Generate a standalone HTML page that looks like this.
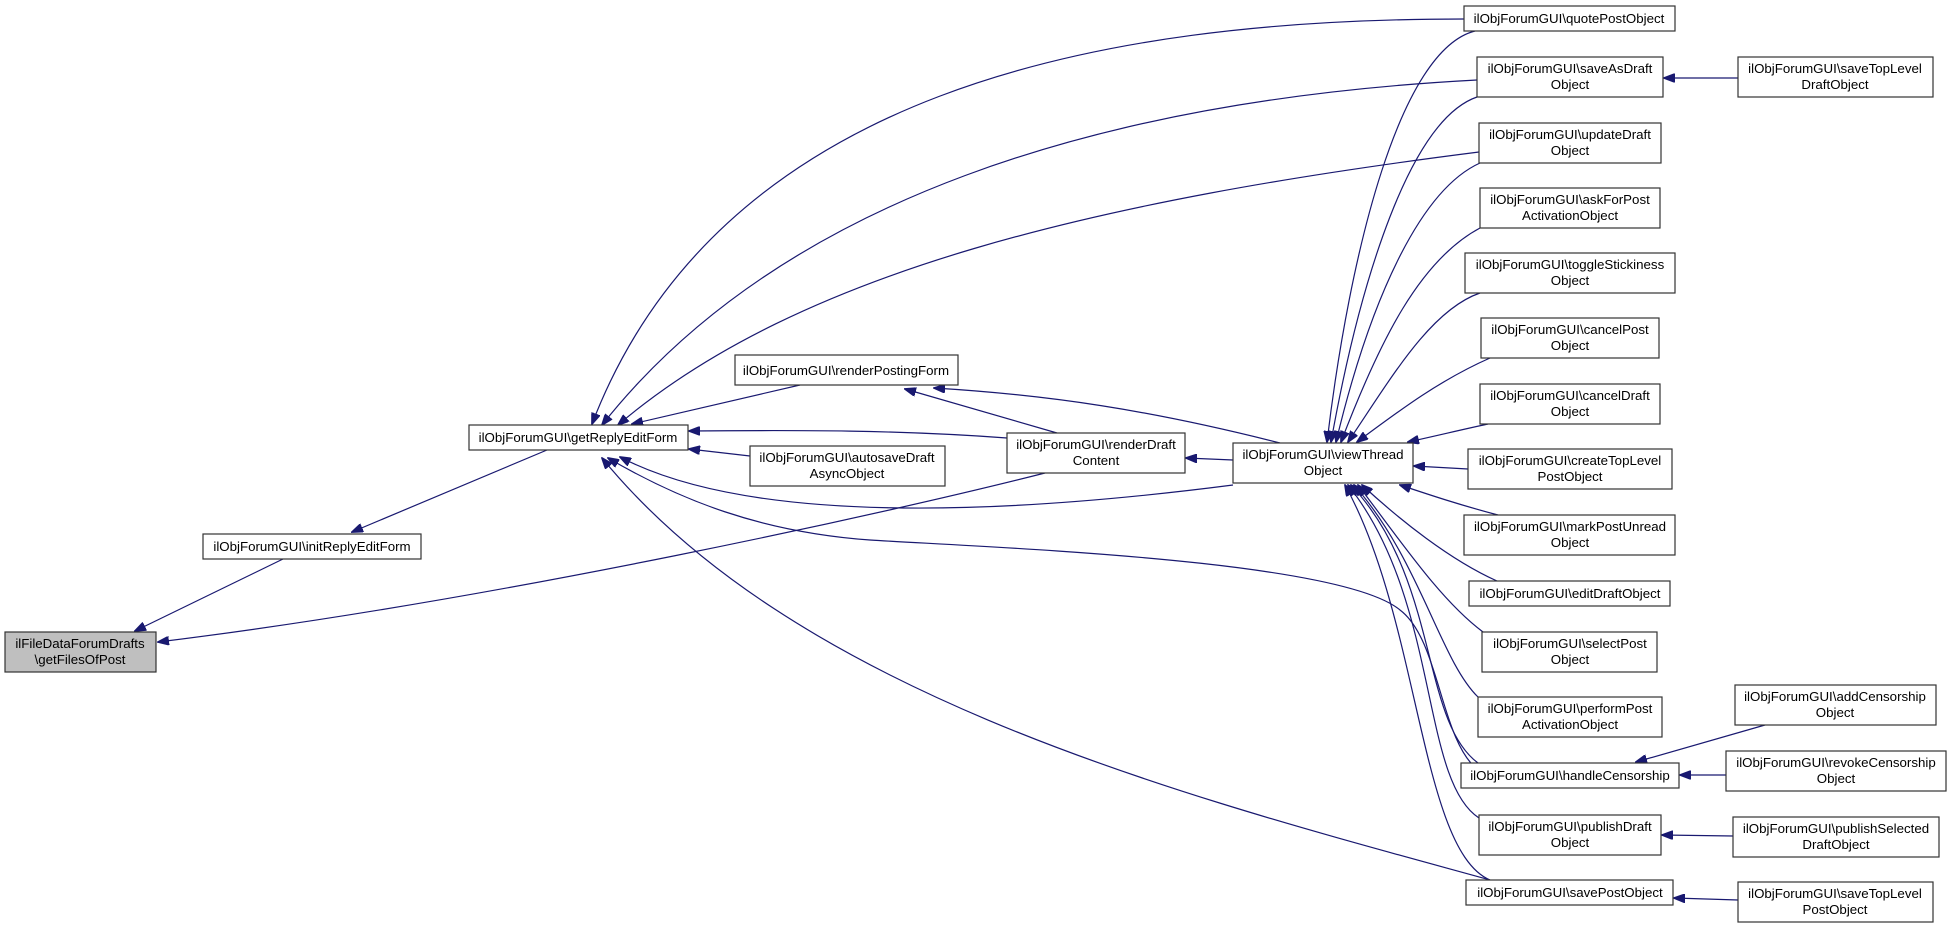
<!DOCTYPE html>
<html><head><meta charset="utf-8"><style>
html,body{margin:0;padding:0;background:#fff;}
svg{display:block;}
text{font-family:"Liberation Sans",Arial,sans-serif;font-size:13.3px;fill:#000;text-anchor:middle;}
.n{fill:#fff;stroke:#333;stroke-width:1.2;}
.e{fill:none;stroke:#191970;stroke-width:1.2;}
</style></head><body>
<svg width="1951" height="929" viewBox="0 0 1951 929" xmlns="http://www.w3.org/2000/svg">
<defs>
<marker id="ah" markerWidth="12" markerHeight="9" refX="11" refY="4.5" orient="auto" markerUnits="userSpaceOnUse">
<path d="M0,0 L12,4.5 L0,9 Z" fill="#191970" stroke="#191970"/>
</marker>
</defs>
<g class="edges">
<path class="e" marker-end="url(#ah)" d="M283,559 L135,631"/>
<path class="e" marker-end="url(#ah)" d="M1045,473 C900,510 500,600 158,642"/>
<path class="e" marker-end="url(#ah)" d="M547,450 L352,532"/>
<path class="e" marker-end="url(#ah)" d="M1464,19 C1100,19 720,90 592,424"/>
<path class="e" marker-end="url(#ah)" d="M1477,80 C1100,100 780,200 602,425"/>
<path class="e" marker-end="url(#ah)" d="M1479,152 C1100,200 800,270 618,425"/>
<path class="e" marker-end="url(#ah)" d="M800,385 L632,424"/>
<path class="e" marker-end="url(#ah)" d="M1007,438 C900,430 800,430 689,431"/>
<path class="e" marker-end="url(#ah)" d="M750,456 L689,449"/>
<path class="e" marker-end="url(#ah)" d="M1233,485 C1000,515 750,525 620,457"/>
<path class="e" marker-end="url(#ah)" d="M1478,770 C1440,740 1440,640 1400,610 C1340,560 1000,548 870,540 C760,532 680,500 608,458"/>
<path class="e" marker-end="url(#ah)" d="M1490,880 C1200,800 800,700 602,458"/>
<path class="e" marker-end="url(#ah)" d="M1057,433 L905,389"/>
<path class="e" marker-end="url(#ah)" d="M1280,443 C1150,410 1050,395 934,388"/>
<path class="e" marker-end="url(#ah)" d="M1233,460 L1186,458"/>
<path class="e" marker-end="url(#ah)" d="M1475,31 C1400,50 1350,250 1327,442"/>
<path class="e" marker-end="url(#ah)" d="M1477,97 C1410,120 1360,280 1331,442"/>
<path class="e" marker-end="url(#ah)" d="M1480,163 C1420,190 1370,300 1336,442"/>
<path class="e" marker-end="url(#ah)" d="M1480,228 C1420,260 1380,340 1341,442"/>
<path class="e" marker-end="url(#ah)" d="M1480,293 C1430,310 1390,380 1348,442"/>
<path class="e" marker-end="url(#ah)" d="M1490,358 C1440,380 1400,410 1357,442"/>
<path class="e" marker-end="url(#ah)" d="M1488,424 C1460,430 1440,435 1408,442"/>
<path class="e" marker-end="url(#ah)" d="M1468,469 L1414,466"/>
<path class="e" marker-end="url(#ah)" d="M1498,515 C1460,505 1430,495 1400,485"/>
<path class="e" marker-end="url(#ah)" d="M1497,581 C1450,560 1400,520 1362,485"/>
<path class="e" marker-end="url(#ah)" d="M1483,632 C1440,600 1400,540 1358,485"/>
<path class="e" marker-end="url(#ah)" d="M1478,697 C1440,660 1420,560 1354,485"/>
<path class="e" marker-end="url(#ah)" d="M1478,763 C1420,720 1440,580 1351,485"/>
<path class="e" marker-end="url(#ah)" d="M1479,818 C1420,780 1440,600 1348,485"/>
<path class="e" marker-end="url(#ah)" d="M1490,880 C1420,850 1420,620 1345,485"/>
<path class="e" marker-end="url(#ah)" d="M1738,78 L1664,78"/>
<path class="e" marker-end="url(#ah)" d="M1765,725 L1636,762"/>
<path class="e" marker-end="url(#ah)" d="M1726,775 L1680,775"/>
<path class="e" marker-end="url(#ah)" d="M1733,836 L1662,835"/>
<path class="e" marker-end="url(#ah)" d="M1738,900 L1674,898"/>
</g>
<g>
<rect x="5" y="632" width="151" height="40" fill="#bfbfbf" stroke="#333" stroke-width="1.2"/>
<text x="80" y="648">ilFileDataForumDrafts</text><text x="80" y="664">\getFilesOfPost</text>

<rect class="n" x="203" y="534" width="218" height="25"/><text x="312" y="551">ilObjForumGUI\initReplyEditForm</text>
<rect class="n" x="469" y="425" width="219" height="25"/><text x="578" y="442">ilObjForumGUI\getReplyEditForm</text>
<rect class="n" x="735" y="355" width="223" height="30"/><text x="846" y="375">ilObjForumGUI\renderPostingForm</text>
<rect class="n" x="750" y="446" width="195" height="40"/><text x="847" y="462">ilObjForumGUI\autosaveDraft</text><text x="847" y="478">AsyncObject</text>
<rect class="n" x="1007" y="433" width="178" height="40"/><text x="1096" y="449">ilObjForumGUI\renderDraft</text><text x="1096" y="465">Content</text>
<rect class="n" x="1233" y="443" width="180" height="40"/><text x="1323" y="459">ilObjForumGUI\viewThread</text><text x="1323" y="475">Object</text>

<rect class="n" x="1464" y="6" width="211" height="25"/><text x="1569" y="23">ilObjForumGUI\quotePostObject</text>
<rect class="n" x="1477" y="57" width="186" height="40"/><text x="1570" y="73">ilObjForumGUI\saveAsDraft</text><text x="1570" y="89">Object</text>
<rect class="n" x="1479" y="123" width="182" height="40"/><text x="1570" y="139">ilObjForumGUI\updateDraft</text><text x="1570" y="155">Object</text>
<rect class="n" x="1480" y="188" width="180" height="40"/><text x="1570" y="204">ilObjForumGUI\askForPost</text><text x="1570" y="220">ActivationObject</text>
<rect class="n" x="1465" y="253" width="210" height="40"/><text x="1570" y="269">ilObjForumGUI\toggleStickiness</text><text x="1570" y="285">Object</text>
<rect class="n" x="1481" y="318" width="178" height="40"/><text x="1570" y="334">ilObjForumGUI\cancelPost</text><text x="1570" y="350">Object</text>
<rect class="n" x="1480" y="384" width="180" height="40"/><text x="1570" y="400">ilObjForumGUI\cancelDraft</text><text x="1570" y="416">Object</text>
<rect class="n" x="1468" y="449" width="204" height="40"/><text x="1570" y="465">ilObjForumGUI\createTopLevel</text><text x="1570" y="481">PostObject</text>
<rect class="n" x="1464" y="515" width="211" height="40"/><text x="1570" y="531">ilObjForumGUI\markPostUnread</text><text x="1570" y="547">Object</text>
<rect class="n" x="1469" y="581" width="201" height="25"/><text x="1570" y="598">ilObjForumGUI\editDraftObject</text>
<rect class="n" x="1482" y="632" width="175" height="40"/><text x="1570" y="648">ilObjForumGUI\selectPost</text><text x="1570" y="664">Object</text>
<rect class="n" x="1478" y="697" width="184" height="40"/><text x="1570" y="713">ilObjForumGUI\performPost</text><text x="1570" y="729">ActivationObject</text>
<rect class="n" x="1461" y="763" width="218" height="25"/><text x="1570" y="780">ilObjForumGUI\handleCensorship</text>
<rect class="n" x="1479" y="815" width="182" height="40"/><text x="1570" y="831">ilObjForumGUI\publishDraft</text><text x="1570" y="847">Object</text>
<rect class="n" x="1466" y="880" width="207" height="25"/><text x="1570" y="897">ilObjForumGUI\savePostObject</text>

<rect class="n" x="1738" y="57" width="195" height="40"/><text x="1835" y="73">ilObjForumGUI\saveTopLevel</text><text x="1835" y="89">DraftObject</text>
<rect class="n" x="1735" y="685" width="201" height="40"/><text x="1835" y="701">ilObjForumGUI\addCensorship</text><text x="1835" y="717">Object</text>
<rect class="n" x="1726" y="751" width="220" height="40"/><text x="1836" y="767">ilObjForumGUI\revokeCensorship</text><text x="1836" y="783">Object</text>
<rect class="n" x="1733" y="817" width="206" height="40"/><text x="1836" y="833">ilObjForumGUI\publishSelected</text><text x="1836" y="849">DraftObject</text>
<rect class="n" x="1738" y="882" width="195" height="40"/><text x="1835" y="898">ilObjForumGUI\saveTopLevel</text><text x="1835" y="914">PostObject</text>
</g>
</svg>
</body></html>
